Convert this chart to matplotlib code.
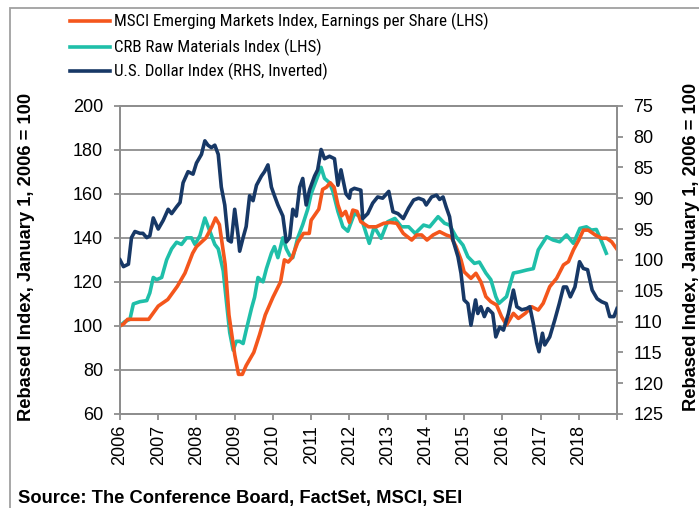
import matplotlib
matplotlib.use("Agg")
import matplotlib.pyplot as plt
from matplotlib.lines import Line2D
from matplotlib.patches import Rectangle
from matplotlib import font_manager

# ---------------- data ----------------
msci_t = [2006.0, 2006.1, 2006.2, 2006.4, 2006.6, 2006.75, 2007.0, 2007.25, 2007.5, 2007.7,
          2007.9, 2008.0, 2008.25, 2008.4, 2008.5, 2008.6, 2008.75, 2008.85, 2009.0, 2009.1,
          2009.2, 2009.3, 2009.5, 2009.65, 2009.8, 2010.0, 2010.2, 2010.3, 2010.4, 2010.5,
          2010.65, 2010.8, 2010.95, 2011.0, 2011.2, 2011.3, 2011.4, 2011.5, 2011.6, 2011.7,
          2011.8, 2011.9, 2012.0, 2012.09, 2012.2, 2012.3, 2012.5, 2012.7, 2012.9, 2013.06,
          2013.24, 2013.41, 2013.63, 2013.76, 2013.89, 2014.03, 2014.19, 2014.36, 2014.53, 2014.66,
          2014.79, 2014.92, 2015.0, 2015.18, 2015.31, 2015.44, 2015.57, 2015.7, 2015.85, 2015.98,
          2016.11, 2016.29, 2016.42, 2016.6, 2016.77, 2016.94, 2017.07, 2017.24, 2017.42, 2017.6,
          2017.73, 2017.86, 2018.0, 2018.12, 2018.25, 2018.43, 2018.6, 2018.73, 2018.86, 2019.0]
msci_v = [100, 101, 103, 103, 103, 103, 109, 112, 118, 124,
          133, 136, 140, 145, 149, 146, 128, 105, 87, 78,
          78, 82, 88, 96, 105, 113, 120, 130, 129, 131,
          138, 142, 142, 148, 153, 162, 163, 165, 163, 155,
          150, 152, 147, 152.6, 152, 147.3, 145, 145, 146.6, 147,
          146.6, 142, 139, 141.3, 141.3, 139, 141.3, 142.8, 141.3, 140.5,
          136, 130, 124.6, 121.6, 123.9, 120, 113.3, 111, 109.5, 104.2,
          100.4, 105.7, 103.4, 105.7, 108.7, 107.2, 110.3, 117.8, 121.6, 127.7,
          129.2, 134.5, 139, 143.5, 143.5, 141.3, 139.8, 139.8, 138.2, 134.8]

crb_t = [2006.0, 2006.13, 2006.26, 2006.35, 2006.52, 2006.7, 2006.78, 2006.87, 2006.96, 2007.09,
         2007.22, 2007.35, 2007.48, 2007.61, 2007.74, 2007.87, 2007.96, 2008.09, 2008.22, 2008.35,
         2008.48, 2008.57, 2008.7, 2008.79, 2008.87, 2008.96, 2009.04, 2009.13, 2009.22, 2009.3,
         2009.44, 2009.52, 2009.61, 2009.74, 2009.83, 2009.96, 2010.04, 2010.13, 2010.26, 2010.35,
         2010.44, 2010.52, 2010.65, 2010.78, 2010.91, 2011.0, 2011.13, 2011.26, 2011.35, 2011.48,
         2011.57, 2011.7, 2011.83, 2011.96, 2012.13, 2012.3, 2012.52, 2012.65, 2012.83, 2013.0,
         2013.19, 2013.36, 2013.55, 2013.72, 2013.94, 2014.1, 2014.32, 2014.49, 2014.62, 2014.79,
         2014.97, 2015.1, 2015.27, 2015.4, 2015.57, 2015.7, 2015.83, 2015.91, 2016.11, 2016.29,
         2016.46, 2016.64, 2016.81, 2016.94, 2017.16, 2017.33, 2017.5, 2017.68, 2017.86, 2018.03,
         2018.2, 2018.33, 2018.46, 2018.6, 2018.72]
crb_v = [100, 102, 103, 110, 111, 111.5, 115, 122, 121, 122,
         130, 135, 138, 137, 140, 140, 137, 141, 149, 143,
         137, 135, 125, 110, 97, 89, 93, 93, 92, 98,
         108, 113, 122, 120, 126, 133, 136, 131, 140, 135,
         132, 131, 140, 146, 153, 160, 166, 172, 167, 165,
         161, 152, 145, 143, 151, 149.6, 137.5, 145, 139.8, 147.3,
         148.8, 145, 145, 142, 145.8, 145, 149.6, 146.6, 145.8, 140.5,
         136.7, 131.4, 128.4, 129, 124, 121, 113.3, 110.2, 113.3, 124,
         124.6, 125.4, 126, 134.5, 140.5, 139, 138.2, 141.3, 137.5, 144.3,
         145, 143.5, 143.8, 138.2, 133]

usd_t = [2006.0, 2006.09, 2006.22, 2006.3, 2006.39, 2006.52, 2006.6, 2006.7, 2006.78, 2006.87,
         2007.0, 2007.13, 2007.26, 2007.35, 2007.48, 2007.57, 2007.65, 2007.78, 2007.91, 2008.0,
         2008.13, 2008.22, 2008.3, 2008.39, 2008.48, 2008.57, 2008.65, 2008.74, 2008.83, 2008.91,
         2009.0, 2009.09, 2009.13, 2009.22, 2009.3, 2009.39, 2009.48, 2009.57, 2009.7, 2009.78,
         2009.87, 2009.96, 2010.04, 2010.13, 2010.26, 2010.35, 2010.44, 2010.52, 2010.61, 2010.7,
         2010.78, 2010.87, 2010.96, 2011.09, 2011.17, 2011.26, 2011.35, 2011.48, 2011.61, 2011.7,
         2011.78, 2011.91, 2012.0, 2012.04, 2012.13, 2012.3, 2012.35, 2012.48, 2012.61, 2012.74,
         2012.87, 2013.03, 2013.14, 2013.27, 2013.41, 2013.55, 2013.68, 2013.81, 2013.94, 2014.01,
         2014.15, 2014.28, 2014.36, 2014.45, 2014.53, 2014.62, 2014.71, 2014.84, 2014.92, 2015.0,
         2015.1, 2015.18, 2015.3, 2015.36, 2015.44, 2015.53, 2015.62, 2015.75, 2015.83, 2015.93,
         2016.03, 2016.16, 2016.29, 2016.38, 2016.51, 2016.64, 2016.72, 2016.81, 2016.9, 2016.96,
         2017.05, 2017.11, 2017.24, 2017.37, 2017.49, 2017.6, 2017.68, 2017.78, 2017.9, 2018.02,
         2018.12, 2018.23, 2018.35, 2018.48, 2018.6, 2018.72, 2018.81, 2018.92, 2019.0]
usd_v = [100.0, 101.1, 100.7, 96.4, 95.4, 95.7, 95.7, 96.4, 96.1, 93.2,
         95.0, 93.6, 91.8, 92.5, 91.4, 90.7, 87.5, 85.7, 86.1, 84.3,
         82.9, 80.7, 81.4, 81.8, 81.4, 82.9, 88.2, 91.1, 96.8, 97.1,
         91.8, 96.1, 98.6, 96.4, 94.6, 89.6, 90.4, 87.9, 86.4, 85.7,
         84.6, 88.2, 89.6, 91.1, 92.9, 97.1, 96.4, 91.8, 92.9, 88.2,
         86.8, 91.1, 88.6, 86.4, 85.4, 82.1, 83.6, 83.2, 83.6, 87.9,
         85.4, 89.3, 90.0, 88.7, 88.4, 88.7, 93.3, 92.5, 90.8, 89.8,
         90.0, 88.9, 92.2, 92.5, 93.3, 91.6, 90.3, 90.0, 90.3, 91.1,
         89.8, 89.5, 90.2, 89.8, 91.4, 93.0, 96.8, 99.5, 102.2, 106.5,
         107.1, 110.6, 106.5, 108.7, 107.6, 109.2, 107.9, 108.7, 112.5, 110.9,
         111.4, 108.7, 104.9, 107.6, 108.1, 107.9, 107.6, 110.3, 113.5, 114.9,
         111.9, 113.8, 112.5, 109.8, 107.1, 104.4, 104.4, 106.0, 104.4, 100.3,
         101.4, 101.6, 104.9, 106.3, 106.8, 107.1, 109.2, 109.2, 107.9]

years = list(range(2006, 2020))
year_labels = [str(y) for y in range(2006, 2019)] + [""]
left_ticks = [60, 80, 100, 120, 140, 160, 180, 200]
right_ticks = [75, 80, 85, 90, 95, 100, 105, 110, 115, 120, 125]

series_names = ["MSCI Emerging Markets Index, Earnings per Share (LHS)",
                "CRB Raw Materials Index (LHS)",
                "U.S. Dollar Index (RHS, Inverted)"]

# ---------------- style ----------------
C_ORANGE = "#F4561C"
C_TEAL = "#1FBFA9"
C_NAVY = "#173866"
C_GRID = "#8E8E8E"

names = {f.name for f in font_manager.fontManager.ttflist}
pref = ["Liberation Sans Narrow", "Arial Narrow", "Roboto Condensed", "Noto Sans Condensed",
        "Open Sans Condensed", "DejaVu Sans Condensed"]
narrow = next((p for p in pref if p in names), None)
if narrow is None:
    cands = sorted(n for n in names if ("Narrow" in n or "Condensed" in n) and "CJK" not in n)
    narrow = cands[0] if cands else "Liberation Sans"

plt.rcParams["font.family"] = ["Liberation Sans", "DejaVu Sans"]

fig = plt.figure(figsize=(6.99, 5.08), dpi=100)
ax = fig.add_axes([120 / 699, 1 - 414 / 508, (617 - 120) / 699, (414 - 105.7) / 508])
ax2 = ax.twinx()

lw = 2.6
ax.plot(crb_t, crb_v, color=C_TEAL, lw=lw, zorder=3, solid_joinstyle="round")
ax.plot(msci_t, msci_v, color=C_ORANGE, lw=lw, zorder=4, solid_joinstyle="round")
ax2.plot(usd_t, usd_v, color=C_NAVY, lw=lw, zorder=5, solid_joinstyle="round")

ax.set_xlim(2006, 2019)
ax.set_ylim(60, 200)
ax2.set_ylim(125, 75)

ax.set_yticks(left_ticks)
ax2.set_yticks(right_ticks)
ax.set_xticks(years)
ax.set_xticklabels(year_labels, rotation=90)

ax.grid(axis="y", color=C_GRID, lw=1.3)
ax.set_axisbelow(True)

TS = 13
for a in (ax, ax2):
    for s in a.spines.values():
        s.set_color(C_GRID)
        s.set_linewidth(1.3)
ax.tick_params(axis="both", colors=C_GRID, labelcolor="black", labelsize=TS,
               length=4.5, width=1.3, direction="out")
ax.tick_params(axis="y", pad=7.8)
ax.tick_params(axis="x", pad=3.5)
ax2.tick_params(axis="y", colors=C_GRID, labelcolor="black", labelsize=TS,
                length=4.5, width=1.3, direction="out", pad=7.2)

# legend (manual)
renderer = fig.canvas.get_renderer()
probe = fig.text(0, 0, series_names[0], fontsize=13, family=[narrow, "DejaVu Sans"])
w13 = probe.get_window_extent(renderer).width
probe.remove()
leg_fs = max(12.2, min(13.5, 13 * 357.0 / w13))

legend_y = [21, 47, 71]
legend_c = [C_ORANGE, C_TEAL, C_NAVY]
for name, c, yy in zip(series_names, legend_c, legend_y):
    yf = 1 - yy / 508
    fig.add_artist(Line2D([70 / 699, 110 / 699], [yf, yf], color=c, lw=2.6,
                          transform=fig.transFigure))
    fig.text(114 / 699, yf, name, ha="left", va="center", fontsize=leg_fs,
             family=[narrow, "DejaVu Sans"])

# axis titles
fig.text(27 / 699, 1 - 257 / 508, "Rebased Index, January 1, 2006 = 100", rotation=90,
         ha="center", va="center", fontsize=13.2, fontweight="bold")
fig.text(692 / 699, 1 - 247 / 508, "Rebased Index, January 1, 2006 = 100", rotation=90,
         ha="center", va="center", fontsize=13.2, fontweight="bold")

fig.text(18 / 699, 1 - 499 / 508, "Source: The Conference Board, FactSet, MSCI, SEI",
         ha="left", va="center", fontsize=13.2, fontweight="bold")

# outer frame
fig.add_artist(Rectangle((10 / 699, -0.2), 1.5, 1.2 - 8 / 508, transform=fig.transFigure,
                         fill=False, edgecolor="#A0A0A0", lw=1.3, clip_on=False))

fig.savefig("out.png", dpi=100)
